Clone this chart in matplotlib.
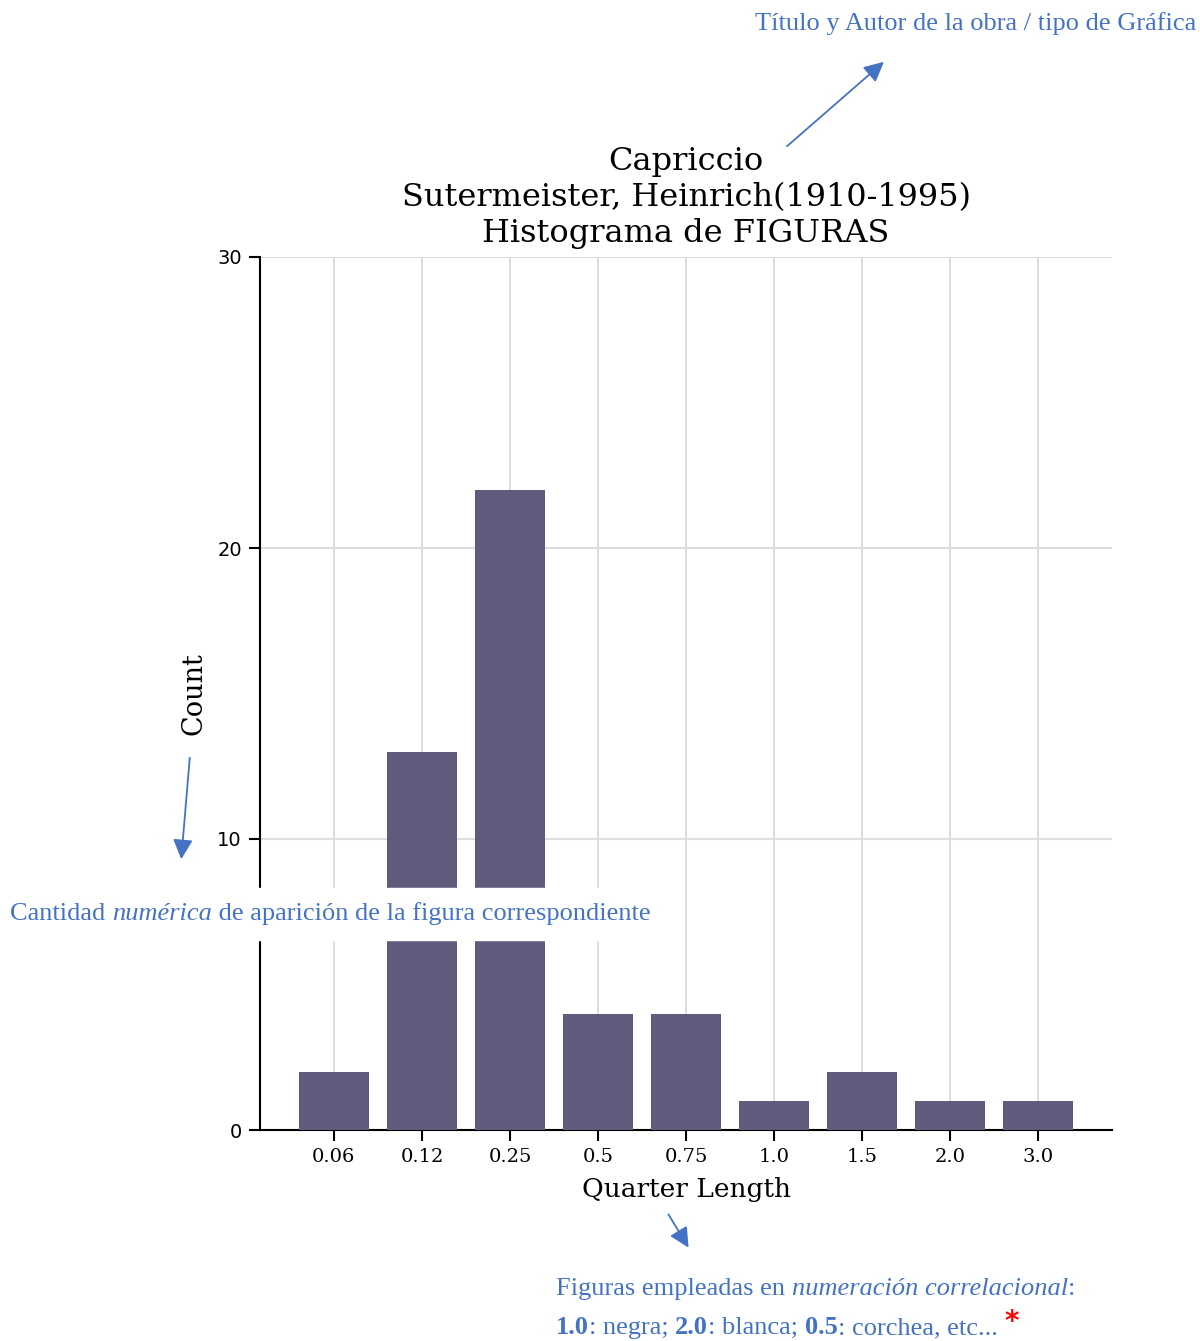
import matplotlib
matplotlib.use("Agg")
import matplotlib.pyplot as plt

# Datos del histograma de figuras
figuras = ["0.06", "0.12", "0.25", "0.5", "0.75", "1.0", "1.5", "2.0", "3.0"]
cuentas = [2, 13, 22, 4, 4, 1, 2, 1, 1]
y_ticks = [0, 10, 20, 30]

azul = "#4472c4"
barra = "#5f5b7d"

fig = plt.figure(figsize=(12, 13.41), dpi=100)
ax = fig.add_axes([260 / 1200, 1 - 1130 / 1341, 852 / 1200, 873 / 1341])

pos = list(range(len(figuras)))
ax.bar(pos, cuentas, width=0.8, color=barra, zorder=3)
ax.set_xlim(-0.84, 8.84)
ax.set_ylim(0, 30)
ax.set_xticks(pos)
ax.set_xticklabels(figuras, family="DejaVu Serif", fontsize=14)
ax.set_yticks(y_ticks)
ax.set_yticklabels([str(v) for v in y_ticks], family="DejaVu Sans", fontsize=14)
ax.tick_params(axis="both", length=8, width=1.5, color="black")
ax.tick_params(axis="y", pad=5)
ax.tick_params(axis="x", pad=5)
ax.grid(True, color="#dddddd", linewidth=1.5, zorder=0)
for s in ["top", "right"]:
    ax.spines[s].set_visible(False)
for s in ["left", "bottom"]:
    ax.spines[s].set_linewidth(1.5)

ax.set_xlabel("Quarter Length", family="DejaVu Serif", fontsize=19, labelpad=8)
ax.set_ylabel("Count", family="DejaVu Serif", fontsize=19.5, labelpad=7)
ax.set_title("Capriccio\nSutermeister, Heinrich(1910-1995)\nHistograma de FIGURAS",
             family="DejaVu Serif", fontsize=23, pad=11, linespacing=1.2)

# -------------------------------
# Anotaciones
# -------------------------------
serif = "Liberation Serif"
fs = 19

fig.text(1196 / 1200, 1 - 24 / 1341, "Título y Autor de la obra / tipo de Gráfica",
         ha="right", va="center", color=azul, family=serif, fontsize=fs)

def flecha(x0, y0, x1, y1):
    fig.add_artist(matplotlib.patches.FancyArrowPatch(
        (x0 / 1200, 1 - y0 / 1341), (x1 / 1200, 1 - y1 / 1341),
        transform=fig.transFigure, arrowstyle="-|>,head_length=12,head_width=6",
        mutation_scale=1, color=azul, linewidth=1.3))

flecha(785, 148, 886, 60)
flecha(190, 755, 181, 862)
flecha(667, 1212, 690, 1250)

# caja blanca que tapa el grafico
fig.add_artist(matplotlib.patches.Rectangle((0, 1 - 940 / 1341), 668 / 1200, 52 / 1341,
                                            transform=fig.transFigure, color="white", zorder=5))

fig.canvas.draw()
renderer = fig.canvas.get_renderer()

def linea(x, y, partes):
    # partes: (texto, estilo, peso, color)
    xf = x / 1200
    for txt, estilo, peso, color in partes:
        t = fig.text(xf, 1 - y / 1341, txt, ha="left", va="center", color=color,
                     family=serif, fontsize=fs, style=estilo, weight=peso, zorder=6)
        bb = t.get_window_extent(renderer)
        xf += bb.width / fig.bbox.width
    return xf

linea(10, 914, [("Cantidad ", "normal", "normal", azul),
                ("numérica", "italic", "normal", azul),
                (" de aparición de la figura correspondiente", "normal", "normal", azul)])

linea(556, 1289, [("Figuras empleadas en ", "normal", "normal", azul),
                  ("numeración correlacional", "italic", "normal", azul),
                  (":", "normal", "normal", azul)])

fin = linea(556, 1328, [("1.0", "normal", "bold", azul),
                        (": negra; ", "normal", "normal", azul),
                        ("2.0", "normal", "bold", azul),
                        (": blanca; ", "normal", "normal", azul),
                        ("0.5", "normal", "bold", azul),
                        (": corchea, etc...", "normal", "normal", azul)])

fig.text(fin + 14 / 1200, 1 - 1322 / 1341, "*", color="red", family="DejaVu Sans",
         fontsize=20, weight="bold", ha="center", va="center")

fig.savefig("out.png", dpi=100)
